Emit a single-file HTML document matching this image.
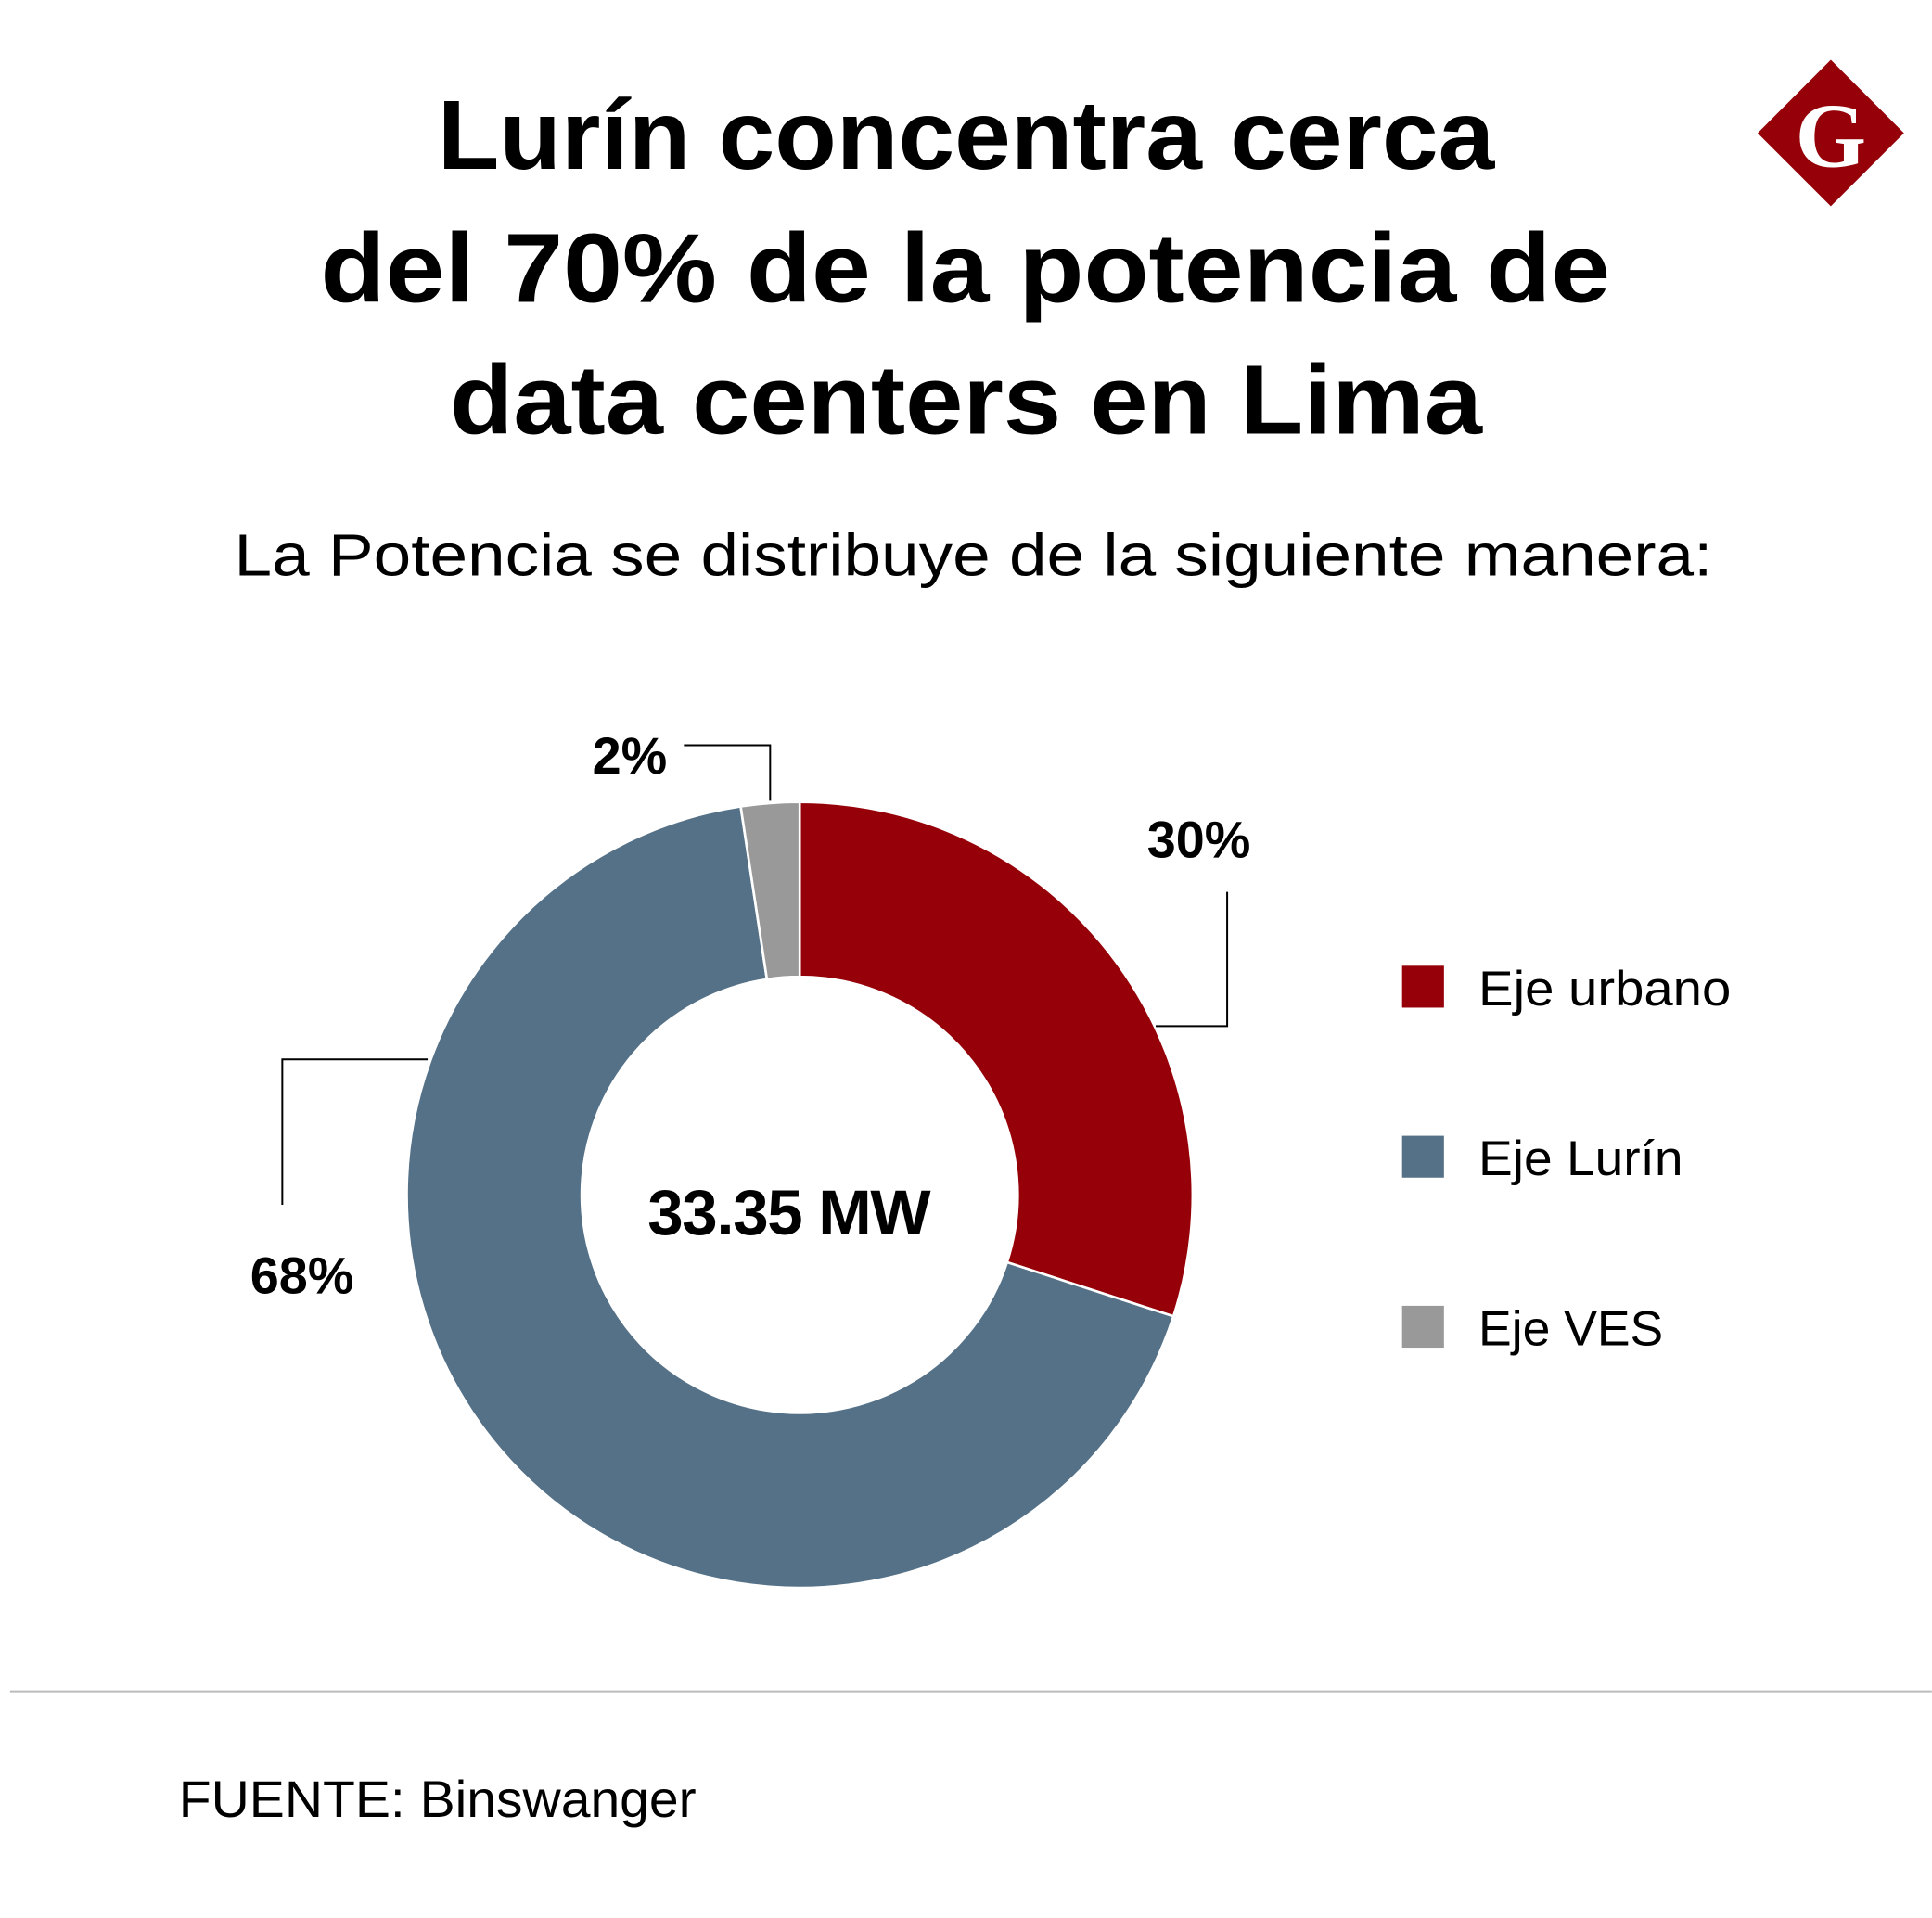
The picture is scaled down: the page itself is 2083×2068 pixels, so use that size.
<!DOCTYPE html>
<html><head><meta charset="utf-8">
<style>
html,body{margin:0;padding:0;background:#fff;}
svg{display:block;font-family:"Liberation Sans",sans-serif;}
</style></head>
<body>
<svg id="chart" width="2083" height="2068" viewBox="0 0 1568 1557" xmlns="http://www.w3.org/2000/svg">
<rect width="1568" height="1557" fill="#fff"/>
<g font-weight="bold" font-size="80" fill="#000">
<text x="355" y="137" textLength="858" lengthAdjust="spacingAndGlyphs">Lurín concentra cerca</text>
<text x="260" y="245" textLength="1047" lengthAdjust="spacingAndGlyphs">del 70% de la potencia de</text>
<text x="365" y="352" textLength="838" lengthAdjust="spacingAndGlyphs">data centers en Lima</text>
</g>
<text x="190" y="467" font-size="48" fill="#000" textLength="1200" lengthAdjust="spacingAndGlyphs">La Potencia se distribuye de la siguiente manera:</text>
<g>
<rect x="1444" y="66" width="84" height="84" fill="#960008" transform="rotate(45 1486 108)"/>
<text x="1486" y="135" font-family="Liberation Serif,serif" font-weight="bold" font-size="74" fill="#fff" text-anchor="middle">G</text>
</g>
<g id="donut"></g>
<g fill="none" stroke="#000" stroke-width="1.5">
<polyline points="625,650 625,605 555,605"/>
<polyline points="938,833 996,833 996,724"/>
<polyline points="347,860 229,860 229,978"/>
</g>
<g id="labels" font-weight="bold" font-size="42" fill="#000"></g>
<text x="640" y="1002" font-size="52" font-weight="bold" text-anchor="middle" letter-spacing="-1">33.35 MW</text>
<g id="legend"></g>
<line x1="8" y1="1373" x2="1568" y2="1373" stroke="#bbb" stroke-width="1.5"/>
<text x="145" y="1475" font-size="42" fill="#000" textLength="420" lengthAdjust="spacingAndGlyphs">FUENTE: Binswanger</text>
</svg>
<script>
const categories = ["Eje urbano", "Eje Lurín", "Eje VES"];
const values = [30, 67.6, 2.4];
const colors = ["#960008", "#557187", "#999999"];
const labelText = ["30%", "68%", "2%"];
const legendWidths = [205, 166, 150];

const NS = "http://www.w3.org/2000/svg";
const cx = 649, cy = 970, R = 319, r = 177;
const total = values.reduce((a, b) => a + b, 0);
function pt(a, rad) { return [cx + rad * Math.sin(a), cy - rad * Math.cos(a)]; }
const donut = document.getElementById("donut");
let acc = 0;
values.forEach((v, i) => {
  const a0 = acc / total * 2 * Math.PI;
  acc += v;
  const a1 = acc / total * 2 * Math.PI;
  const large = (a1 - a0) > Math.PI ? 1 : 0;
  const p0 = pt(a0, R), p1 = pt(a1, R), q1 = pt(a1, r), q0 = pt(a0, r);
  const p = document.createElementNS(NS, "path");
  p.setAttribute("d", `M${p0} A${R},${R} 0 ${large} 1 ${p1} L${q1} A${r},${r} 0 ${large} 0 ${q0} Z`);
  p.setAttribute("fill", colors[i]);
  p.setAttribute("stroke", "#fff");
  p.setAttribute("stroke-width", "2");
  
  
  donut.appendChild(p);
});
const labelPos = [[973, 696], [245, 1050], [511, 628]];
const labels = document.getElementById("labels");
labelText.forEach((t, i) => {
  const el = document.createElementNS(NS, "text");
  el.setAttribute("x", labelPos[i][0]);
  el.setAttribute("y", labelPos[i][1]);
  el.setAttribute("text-anchor", "middle");
  el.textContent = t;
  
  
  labels.appendChild(el);
});
const legend = document.getElementById("legend");
categories.forEach((c, i) => {
  const y = 784 + i * 138;
  const g = document.createElementNS(NS, "g");
  
  
  const sq = document.createElementNS(NS, "rect");
  sq.setAttribute("x", 1138); sq.setAttribute("y", y);
  sq.setAttribute("width", 34); sq.setAttribute("height", 34);
  sq.setAttribute("fill", colors[i]);
  
  
  const tx = document.createElementNS(NS, "text");
  tx.setAttribute("x", 1200); tx.setAttribute("y", y + 32);
  tx.setAttribute("font-size", "40");
  tx.setAttribute("textLength", legendWidths[i]);
  tx.setAttribute("lengthAdjust", "spacingAndGlyphs");
  tx.textContent = c;
  
  
  g.appendChild(sq); g.appendChild(tx);
  legend.appendChild(g);
});
</script>
</body></html>
